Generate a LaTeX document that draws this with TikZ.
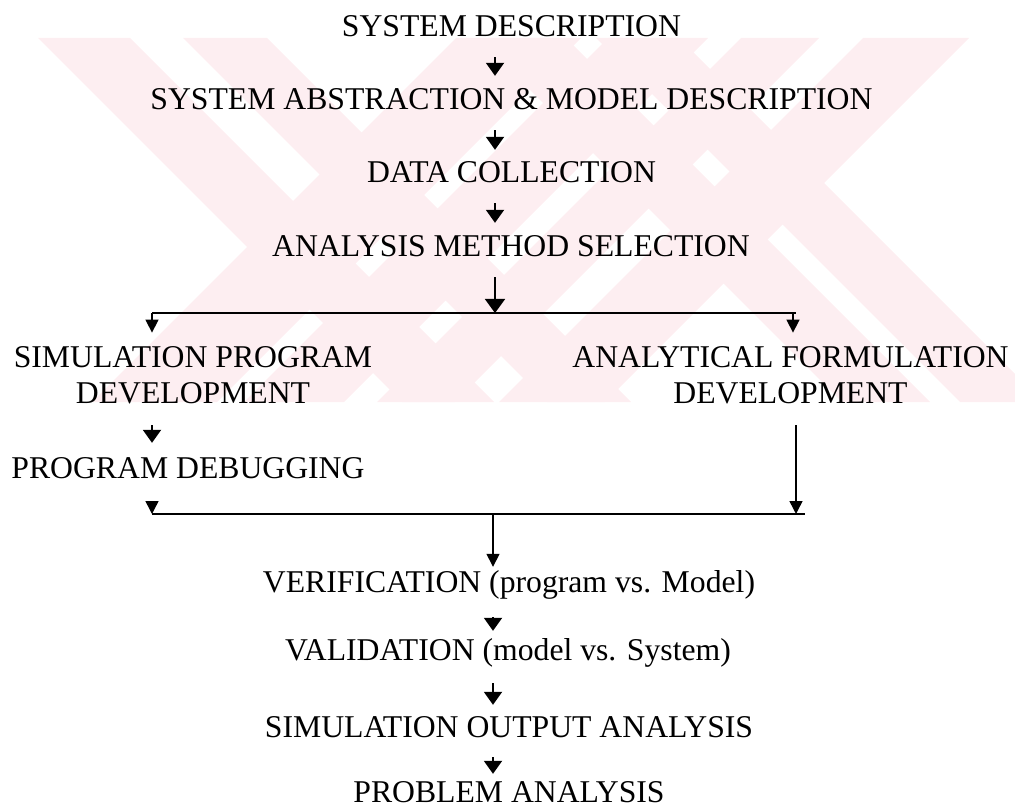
\documentclass[tikz,border=0pt]{standalone}
\usepackage{fontspec}
\setmainfont{Liberation Serif}
\usetikzlibrary{arrows.meta,calc}
\definecolor{wmark}{RGB}{253,238,241}
\begin{document}
\begin{tikzpicture}[x=1pt,y=-1pt,
  txt/.style={inner sep=0pt, anchor=base, font=\fontsize{31.7}{36}\selectfont},
  lbl/.style={txt, text height=21pt, text depth=0pt},
  bigtxt/.style={txt},
  sarr/.style={line width=2pt, -{Triangle[width=18pt,length=13pt]}},
  tarr/.style={line width=1.5pt, -{Triangle[width=13pt,length=13pt]}},
  barr/.style={line width=1.6pt, -{Triangle[width=20pt,length=14pt]}},
  bus/.style={line width=2.5pt}
]
\useasboundingbox (0,0) rectangle (1015,810);

% faint background emblem
\begin{scope}
  \clip (0,38) rectangle (1015,402);
  \foreach \a/\b in {0/92,145/229,440/528,558/641}
    \fill[wmark] (\a+38,38) -- (\b+38,38) -- (\b+402,402) -- (\a+402,402) -- cycle;
  \foreach \a/\b in {494/619,646/746,779/857,901/1007}
    \fill[wmark] (\a-38,38) -- (\b-38,38) -- (\b-402,402) -- (\a-402,402) -- cycle;
\end{scope}

% stages
\node[lbl] (sd)  at (511.5,37)  {SYSTEM DESCRIPTION};
\node[lbl] (sa)  at (511.5,110) {SYSTEM ABSTRACTION \& MODEL DESCRIPTION};
\node[lbl] (dc)  at (511.5,183) {DATA COLLECTION};
\node[lbl] (am)  at (511,257)   {ANALYSIS METHOD SELECTION};
\node[bigtxt] (sp) at (193,367) {\begin{tabular}[t]{@{}c@{}}SIMULATION PROGRAM\\DEVELOPMENT\end{tabular}};
\node[bigtxt] (af) at (790.5,367) {\begin{tabular}[t]{@{}c@{}}ANALYTICAL FORMULATION\\DEVELOPMENT\end{tabular}};
\node[lbl] (pd)  at (188,478)   {PROGRAM DEBUGGING};
\node[lbl] (ver) at (509,592)   {VERIFICATION (program vs. Model)};
\node[lbl] (val) at (508,660)   {VALIDATION (model vs. System)};
\node[lbl] (soa) at (509,737)   {SIMULATION OUTPUT ANALYSIS};
\node[lbl] (pa)  at (509,802)   {PROBLEM ANALYSIS};

% junction points
\coordinate (ax) at (495,0);
\coordinate (bx) at (493,0);
\coordinate (jA) at (495,313);
\coordinate (jL) at (152,313);
\coordinate (jR) at (795,313);
\coordinate (mL) at (152,514);
\coordinate (mR) at (805,514);
\coordinate (mC) at (493,514);
\coordinate (mF) at (796,514);

% upper chain
\draw[sarr, shorten <=20pt, shorten >=13pt] (sd.south -| ax) -- (sa.north -| ax);
\draw[sarr, shorten <=20pt, shorten >=12pt] (sa.south -| ax) -- (dc.north -| ax);
\draw[sarr, shorten <=20pt, shorten >=13pt] (dc.south -| ax) -- (am.north -| ax);
\draw[barr, shorten <=20pt] (am.south -| ax) -- (jA);

% split
\draw[bus] (jL) -- ([xshift=1pt]jR);
\draw[tarr, shorten >=9pt] (jL) -- (jL |- sp.north);
\draw[tarr, shorten >=9pt] ([xshift=-2pt]jR) -- ([xshift=-2pt]jR |- af.north);

% branches
\draw[sarr, shorten <=11pt, shorten >=14pt] (sp.south -| jL) -- (pd.north -| jL);
\draw[tarr, shorten <=24pt] (pd.south -| mL) -- (mL);
\draw[tarr, shorten <=11pt] (af.south -| mF) -- (mF);

% merge
\draw[bus] (mL) -- (mR);
\draw[tarr, shorten >=4pt] (mC) -- (ver.north -| mC);

% lower chain
\draw[sarr, shorten <=25pt, shorten >=8pt]  (ver.south -| bx) -- (val.north -| bx);
\draw[sarr, shorten <=23pt, shorten >=11pt] (val.south -| bx) -- (soa.north -| bx);
\draw[sarr, shorten <=20pt, shorten >=7pt] (soa.south -| bx) -- (pa.north -| bx);
\end{tikzpicture}
\end{document}
